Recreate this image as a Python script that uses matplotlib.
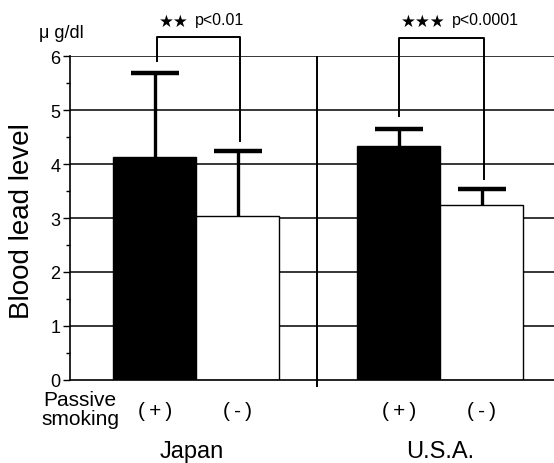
import matplotlib
matplotlib.use('Agg')
import matplotlib.pyplot as plt
from matplotlib.ticker import MultipleLocator

plt.rcParams['font.family'] = ['Liberation Sans', 'DejaVu Sans']

# values
countries = ['Japan', 'U.S.A.']
smoking_labels = ['(\u2009+\u2009)', '(\u2009-\u2009)', '(\u2009+\u2009)', '(\u2009-\u2009)']
bar_pos = [0, 1, 2.94, 3.94]
means = [4.13, 3.04, 4.33, 3.24]
err_top = [5.68, 4.24, 4.64, 3.53]
bar_colors = ['black', 'white', 'black', 'white']
p_texts = ['p<0.01', 'p<0.0001']
stars = ['\u2605\u2605', '\u2605\u2605\u2605']
# bracket legs: (left x, left bottom, right x, right bottom, top)
brackets = [(0.03, 5.91, 1.03, 4.43, 6.36), (2.94, 4.89, 3.97, 3.72, 6.33)]

W, H = 554, 464


def fx(px):
    return px / W


def fy(py):
    return 1 - py / H


fig = plt.figure(figsize=(W / 100, H / 100), dpi=100)
ax = fig.add_axes([fx(70), fy(381), fx(554 - 70), (381 - 57) / H])

ax.set_xlim(-1.02, 4.81)
ax.set_ylim(0, 6)

# horizontal lines sit behind the bars
for yv in range(1, 7):
    ax.axhline(yv, color='black', lw=1.1, zorder=0)
ax.axvline(1.96, color='black', lw=1.4, zorder=0)

ax.bar(bar_pos, means, width=1.0, color=bar_colors, edgecolor='black', linewidth=1.0, zorder=2)
# upper error bars only
ax.vlines(bar_pos, means, err_top, color='black', lw=2.4, zorder=3)
ax.hlines(err_top, [p - 0.29 for p in bar_pos], [p + 0.29 for p in bar_pos],
          color='black', lw=3.2, zorder=3)

for x1, y1, x2, y2, top in brackets:
    ax.plot([x1, x1, x2, x2], [y1, top, top, y2], color='black', lw=1.4,
            clip_on=False, zorder=4)

# significance labels (pixel positions from the reference)
fig.text(fx(159), fy(22), stars[0], fontsize=12, family='DejaVu Sans', ha='left', va='center')
fig.text(fx(195), fy(21), p_texts[0], fontsize=11.5, ha='left', va='center')
fig.text(fx(401), fy(22), stars[1], fontsize=12, family='DejaVu Sans', ha='left', va='center')
fig.text(fx(452), fy(21), p_texts[1], fontsize=11.5, ha='left', va='center')

ax.set_yticks(range(0, 7))
ax.yaxis.set_minor_locator(MultipleLocator(0.5))
ax.tick_params(axis='y', which='major', direction='out', length=5, width=1, labelsize=13, pad=2)
ax.tick_params(axis='y', which='minor', direction='out', length=3, width=1)
ax.set_xticks([1.96])
ax.set_xticklabels([''])
ax.tick_params(axis='x', direction='out', length=5, width=1.4)

for side in ['top', 'right']:
    ax.spines[side].set_visible(False)
ax.spines['left'].set_linewidth(1.2)
ax.spines['bottom'].set_linewidth(1.2)

fig.text(fx(22), fy(221), 'Blood lead level', fontsize=20, rotation=90, ha='center', va='center')
fig.text(fx(61), fy(34), '\u03bc g/dl', fontsize=13, ha='center', va='center')

for x, lab in zip(bar_pos, smoking_labels):
    ax.text(x, (381 - 412) / 54, lab, fontsize=15, ha='center', va='center', clip_on=False)
fig.text(fx(80), fy(410), 'Passive\nsmoking', fontsize=15, ha='center', va='center',
         linespacing=1.05)
fig.text(fx(192), fy(458), countries[0], fontsize=17, ha='center', va='baseline')
fig.text(fx(440), fy(458), countries[1], fontsize=17, ha='center', va='baseline')

fig.savefig('out.png', dpi=100)
